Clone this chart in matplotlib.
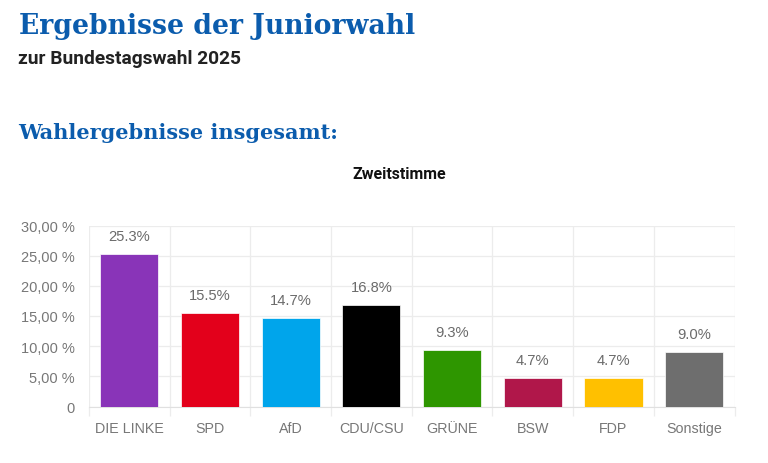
import matplotlib
matplotlib.use("Agg")
import matplotlib.pyplot as plt

categories = ["DIE LINKE", "SPD", "AfD", "CDU/CSU", "GRÜNE", "BSW", "FDP", "Sonstige"]
values = [25.3, 15.5, 14.7, 16.8, 9.3, 4.7, 4.7, 9.0]
colors = ["#8934B8", "#E3001B", "#00A5EB", "#000000", "#2E9600", "#B0174A", "#FFC000", "#6E6E6E"]
ytick_values = [0, 5, 10, 15, 20, 25, 30]
ytick_labels = ["0", "5,00 %", "10,00 %", "15,00 %", "20,00 %", "25,00 %", "30,00 %"]

W, H = 768, 464
fig = plt.figure(figsize=(W / 100, H / 100), dpi=100, facecolor="white")
L, R, T, B = 89, 734.5, 226.5, 407.5
ax = fig.add_axes([L / W, 1 - B / H, (R - L) / W, (B - T) / H])
ax.set_xlim(-0.5, 7.5)
ax.set_ylim(0, 30)
ax.set_axisbelow(True)

x = list(range(len(categories)))
ax.bar(x, values, width=0.72, color=colors, edgecolor="white", linewidth=0.5, zorder=3)
for xi, v in zip(x, values):
    ax.annotate(f"{v:.1f}%", (xi, v), xytext=(0, 13), textcoords="offset points",
                ha="center", va="center", fontsize=10.6, color="#6b6b6b",
                family="Liberation Sans")

ax.set_yticks(ytick_values, ytick_labels)
ax.set_xticks([i - 0.5 for i in range(9)], minor=False)
ax.set_xticklabels([])
ax.grid(True, color="#ececec", linewidth=0.9)
ax.tick_params(axis="y", length=0, pad=10.5, labelsize=10.5, labelcolor="#777777")
ax.tick_params(axis="x", length=6.5, color="#ececec", width=0.9)
for lab in ax.get_yticklabels():
    lab.set_family("Liberation Sans")
for s in ax.spines.values():
    s.set_visible(False)
ax.spines["bottom"].set_visible(True)
ax.spines["bottom"].set_color("#e0e0e0")

for xi, c in zip(x, categories):
    ax.annotate(c, (xi, 0), xytext=(0, -15.5), textcoords="offset points",
                ha="center", va="center", fontsize=10.3, color="#777777", family="Liberation Sans")

blue = "#0B5CAD"
fig.text(19 / W, 1 - 26 / H, "Ergebnisse der Juniorwahl", fontsize=19.2, fontweight="bold",
         family="DejaVu Serif", color=blue, va="center", ha="left")
fig.text(18.5 / W, 1 - 59.5 / H, "zur Bundestagswahl 2025", fontsize=13.8, fontweight="bold",
         family="Roboto", color="#222222", va="center", ha="left")
fig.text(18.5 / W, 1 - 133 / H, "Wahlergebnisse insgesamt:", fontsize=15, fontweight="bold",
         family="DejaVu Serif", color=blue, va="center", ha="left")
fig.text(399.5 / W, 1 - 174.5 / H, "Zweitstimme", fontsize=11.5, fontweight="bold",
         family="Roboto", color="#111111", va="center", ha="center")

fig.savefig("out.png", dpi=100, facecolor="white")
